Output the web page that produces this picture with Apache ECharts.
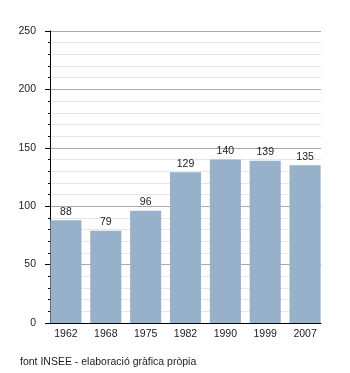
<!DOCTYPE html>
<html>
<head>
<meta charset="utf-8">
<style>
  html, body { margin: 0; padding: 0; background: #fff; }
  #chart { width: 350px; height: 373px; }
</style>
<script src="https://cdn.jsdelivr.net/npm/echarts@6/dist/echarts.min.js"></script>
</head>
<body>
<div id="chart"></div>
<script>
// Population by census year
const years = ['1962', '1968', '1975', '1982', '1990', '1999', '2007'];
const population = [88, 79, 96, 129, 140, 139, 135];
const yTicks = { min: 0, max: 250, interval: 50 };
const sourceNote = 'font INSEE - elaboració gràfica pròpia';

const chart = echarts.init(document.getElementById('chart'), null, { renderer: 'canvas' });
const font = 'Liberation Sans, Arial, sans-serif';
const fontSize = 10.5;

chart.setOption({
  animation: false,
  // grid 0 holds the frame (axis lines, grid lines, y labels);
  // grid 1 is slightly wider so the bars run edge to edge of the frame
  grid: [
    { left: 50, right: 29, top: 31, bottom: 50 },
    { left: 46, right: 25, top: 31, bottom: 50 }
  ],
  graphic: [{
    type: 'text',
    left: 20,
    top: 357,
    style: { text: sourceNote, font: fontSize + 'px ' + font, fill: '#222' }
  }],
  xAxis: [{
    gridIndex: 0,
    type: 'category',
    data: years,
    axisLine: { lineStyle: { color: '#000', width: 1 } },
    axisTick: { show: false },
    axisLabel: { show: false }
  }, {
    gridIndex: 1,
    type: 'category',
    data: years,
    axisLine: { show: false },
    axisTick: { show: false },
    axisLabel: { color: '#222', fontFamily: font, fontSize: fontSize, margin: 6 }
  }],
  yAxis: [{
    gridIndex: 0,
    type: 'value',
    min: yTicks.min,
    max: yTicks.max,
    interval: yTicks.interval,
    axisLine: { show: true, lineStyle: { color: '#000', width: 1 } },
    axisTick: { show: true, inside: false, length: 5, lineStyle: { color: '#000' } },
    minorTick: { show: true, splitNumber: 5, length: 2, lineStyle: { color: '#000' } },
    splitLine: { show: true, lineStyle: { color: '#aaa', width: 1 } },
    minorSplitLine: { show: true, lineStyle: { color: '#e6e6e6', width: 1 } },
    axisLabel: { color: '#222', fontFamily: font, fontSize: fontSize, margin: 14 }
  }, {
    gridIndex: 1,
    type: 'value',
    min: yTicks.min,
    max: yTicks.max,
    interval: yTicks.interval,
    show: false
  }],
  series: [{
    type: 'bar',
    xAxisIndex: 1,
    yAxisIndex: 1,
    data: population,
    barCategoryGap: '22%',
    itemStyle: { color: '#97b1cb' },
    label: {
      show: true,
      position: 'top',
      distance: 3,
      color: '#222',
      fontFamily: font,
      fontSize: fontSize
    }
  }]
});
</script>
</body>
</html>
